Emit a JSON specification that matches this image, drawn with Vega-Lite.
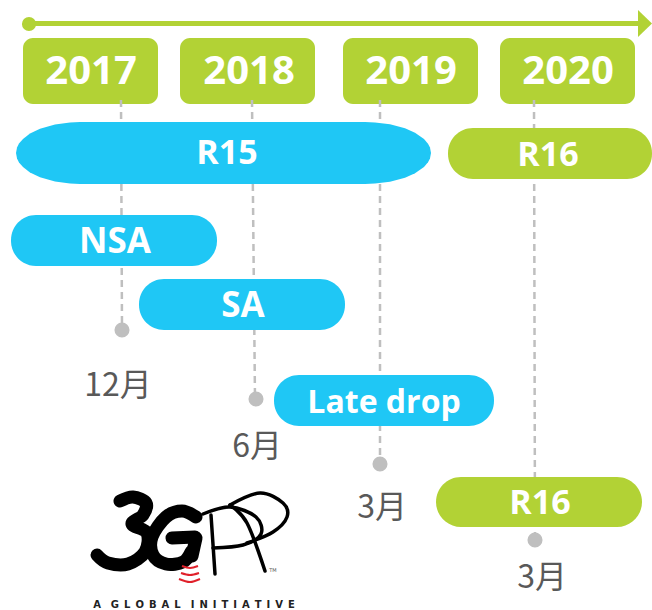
{
"$schema":"https://vega.github.io/schema/vega-lite/v6.json",
"width":652,"height":610,"padding":0,"autosize":{"type":"fit","contains":"padding"},
"background":"white",
"config":{"view":{"stroke":null},"axis":{"domain":false,"grid":false}},
"datasets":{
"years":[{"name":"2017","x0":23,"x1":158,"y0":38,"y1":104,"tx":91,"ty":70},{"name":"2018","x0":180,"x1":315,"y0":38,"y1":104,"tx":249,"ty":70},{"name":"2019","x0":343,"x1":478,"y0":38,"y1":104,"tx":411,"ty":70},{"name":"2020","x0":500,"x1":635,"y0":38,"y1":104,"tx":568,"ty":70}],
"drops":[{"s":"a","i":1,"x":121,"y":100},{"s":"a","i":2,"x":122,"y":330},{"s":"b","i":1,"x":252,"y":100},{"s":"b","i":2,"x":255,"y":399},{"s":"c","i":1,"x":380,"y":100},{"s":"c","i":2,"x":380,"y":464},{"s":"d","i":1,"x":534,"y":100},{"s":"d","i":2,"x":535,"y":540}],
"dots":[{"x":122,"y":330},{"x":256,"y":399},{"x":380,"y":464},{"x":535,"y":540}],
"months":[{"t":"12月","x":118,"y":385},{"t":"6月","x":257,"y":446},{"t":"3月","x":382,"y":507},{"t":"3月","x":542,"y":577}],
"blue":[{"t":"NSA","x0":11,"x1":217,"y0":215,"y1":266,"tx":115,"ty":240},{"t":"SA","x0":139,"x1":345,"y0":279,"y1":330,"tx":243,"ty":304},{"t":"Late drop","x0":274,"x1":494,"y0":375,"y1":426,"tx":384,"ty":401}],
"green":[{"t":"R16","x0":448,"x1":652,"y0":128,"y1":179,"tx":548,"ty":154},{"t":"R16","x0":436,"x1":642,"y0":477,"y1":527,"tx":540,"ty":502}],
"r15":[{"x":16,"a":153,"b":153},{"x":17,"a":147.5,"b":158.5},{"x":19,"a":143.6,"b":162.4},{"x":23,"a":139,"b":167},{"x":30,"a":133.6,"b":172.4},{"x":40,"a":128.8,"b":177.2},{"x":55,"a":124.5,"b":181.5},{"x":70,"a":122.4,"b":183.6},{"x":80,"a":122,"b":184},{"x":365,"a":122,"b":184},{"x":375,"a":122.4,"b":183.6},{"x":390,"a":124.3,"b":181.7},{"x":405,"a":128.3,"b":177.7},{"x":415,"a":132.8,"b":173.2},{"x":424,"a":139.1,"b":166.9},{"x":428,"a":143.8,"b":162.2},{"x":430,"a":147.6,"b":158.4},{"x":431,"a":153,"b":153}],
"logoThick":[
{"s":"3","i":1,"x":120,"y":501},{"s":"3","i":2,"x":133,"y":497},{"s":"3","i":3,"x":146,"y":503},{"s":"3","i":4,"x":143,"y":515},{"s":"3","i":5,"x":132,"y":524},{"s":"3","i":6,"x":147,"y":533},{"s":"3","i":7,"x":145,"y":552},{"s":"3","i":8,"x":128,"y":564},{"s":"3","i":9,"x":108,"y":563},{"s":"3","i":10,"x":97,"y":555},
{"s":"G","i":1,"x":196,"y":517},{"s":"G","i":2,"x":182,"y":511},{"s":"G","i":3,"x":166,"y":517},{"s":"G","i":4,"x":152,"y":537},{"s":"G","i":5,"x":153,"y":555},{"s":"G","i":6,"x":166,"y":564},{"s":"G","i":7,"x":183,"y":562},{"s":"G","i":8,"x":191,"y":552},
{"s":"H","i":1,"x":172,"y":538},{"s":"H","i":2,"x":195,"y":537},
{"s":"W","i":1,"x":196,"y":538},{"s":"W","i":2,"x":192,"y":556}
],
"logoThin":[
{"s":"p1","i":1,"x":211,"y":515},{"s":"p1","i":2,"x":215,"y":574},
{"s":"p2","i":1,"x":203,"y":514},{"s":"p2","i":2,"x":230,"y":507},{"s":"p2","i":3,"x":256,"y":517},{"s":"p2","i":4,"x":261,"y":534},{"s":"p2","i":5,"x":243,"y":545},{"s":"p2","i":6,"x":213,"y":548},
{"s":"p3","i":1,"x":230,"y":505},{"s":"p3","i":2,"x":247,"y":523},{"s":"p3","i":3,"x":265,"y":571},
{"s":"p4","i":1,"x":230,"y":505},{"s":"p4","i":2,"x":260,"y":493},{"s":"p4","i":3,"x":283,"y":503},{"s":"p4","i":4,"x":287,"y":517},{"s":"p4","i":5,"x":273,"y":532},{"s":"p4","i":6,"x":247,"y":543}
],
"logoRed":[
{"s":"a","i":1,"x":182,"y":566},{"s":"a","i":2,"x":190,"y":568},{"s":"a","i":3,"x":198,"y":566},
{"s":"b","i":1,"x":181,"y":573},{"s":"b","i":2,"x":190,"y":575},{"s":"b","i":3,"x":199,"y":573},
{"s":"c","i":1,"x":179,"y":579},{"s":"c","i":2,"x":190,"y":582},{"s":"c","i":3,"x":200,"y":579}
],
"logoText":[{"t":"A\u2003G\u2002L\u2002O\u2002B\u2002A\u2002L\u2003I\u2002N\u2002I\u2002T\u2002I\u2002A\u2002T\u2002I\u2002V\u2002E","x":194,"y":605}],
"tm":[{"t":"TM","x":273,"y":570}]
},
"layer":[
{"data":{"values":[{"x":29,"y":23.5},{"x":640,"y":23.5}]},"mark":{"type":"line","stroke":"#b2d235","strokeWidth":5},"encoding":{"x":{"field":"x","type":"quantitative","scale":{"domain":[0,652],"nice":false,"zero":false},"axis":null},"y":{"field":"y","type":"quantitative","scale":{"domain":[0,610],"reverse":true,"nice":false,"zero":false},"axis":null}}},
{"data":{"values":[{"x":638,"a":10,"b":37},{"x":652,"a":23.5,"b":23.5}]},"mark":{"type":"area","fill":"#b2d235"},"encoding":{"x":{"field":"x","type":"quantitative"},"y":{"field":"a","type":"quantitative"},"y2":{"field":"b"}}},
{"data":{"values":[{"x":29,"y":24}]},"mark":{"type":"point","filled":true,"fill":"#b2d235","opacity":1,"size":200,"shape":"circle"},"encoding":{"x":{"field":"x","type":"quantitative"},"y":{"field":"y","type":"quantitative"}}},
{"data":{"name":"years"},"mark":{"type":"rect","fill":"#b2d235","cornerRadius":10},"encoding":{"x":{"field":"x0","type":"quantitative"},"x2":{"field":"x1"},"y":{"field":"y0","type":"quantitative"},"y2":{"field":"y1"}}},
{"data":{"name":"drops"},"mark":{"type":"line","stroke":"#bfbfbf","strokeWidth":2.5,"strokeDash":[7,5]},"encoding":{"x":{"field":"x","type":"quantitative"},"y":{"field":"y","type":"quantitative"},"detail":{"field":"s"},"order":{"field":"i"}}},
{"data":{"name":"dots"},"mark":{"type":"point","filled":true,"fill":"#bfbfbf","opacity":1,"size":227,"shape":"circle"},"encoding":{"x":{"field":"x","type":"quantitative"},"y":{"field":"y","type":"quantitative"}}},
{"data":{"name":"r15"},"mark":{"type":"area","fill":"#1fc7f5"},"encoding":{"x":{"field":"x","type":"quantitative"},"y":{"field":"a","type":"quantitative"},"y2":{"field":"b"}}},
{"data":{"name":"blue"},"mark":{"type":"rect","fill":"#1fc7f5","cornerRadius":25},"encoding":{"x":{"field":"x0","type":"quantitative"},"x2":{"field":"x1"},"y":{"field":"y0","type":"quantitative"},"y2":{"field":"y1"}}},
{"data":{"name":"green"},"mark":{"type":"rect","fill":"#b2d235","cornerRadius":25},"encoding":{"x":{"field":"x0","type":"quantitative"},"x2":{"field":"x1"},"y":{"field":"y0","type":"quantitative"},"y2":{"field":"y1"}}},
{"data":{"name":"years"},"mark":{"type":"text","font":"Open Sans","fontWeight":"bold","fontSize":40,"fill":"white","align":"center","baseline":"middle","dy":2},"encoding":{"x":{"field":"tx","type":"quantitative"},"y":{"field":"ty","type":"quantitative"},"text":{"field":"name"}}},
{"data":{"name":"blue"},"transform":[{"filter":"datum.t !== 'Late drop'"}],"mark":{"type":"text","font":"Open Sans","fontWeight":"bold","fontSize":35,"fill":"white","align":"center","baseline":"middle","dy":2},"encoding":{"x":{"field":"tx","type":"quantitative"},"y":{"field":"ty","type":"quantitative"},"text":{"field":"t"}}},
{"data":{"name":"blue"},"transform":[{"filter":"datum.t === 'Late drop'"}],"mark":{"type":"text","font":"Open Sans","fontWeight":"bold","fontSize":32,"fill":"white","align":"center","baseline":"middle","dy":2},"encoding":{"x":{"field":"tx","type":"quantitative"},"y":{"field":"ty","type":"quantitative"},"text":{"field":"t"}}},
{"data":{"name":"green"},"mark":{"type":"text","font":"Open Sans","fontWeight":"bold","fontSize":34,"fill":"white","align":"center","baseline":"middle","dy":2},"encoding":{"x":{"field":"tx","type":"quantitative"},"y":{"field":"ty","type":"quantitative"},"text":{"field":"t"}}},
{"data":{"values":[{"t":"R15","x":227,"y":152}]},"mark":{"type":"text","font":"Open Sans","fontWeight":"bold","fontSize":34,"fill":"white","align":"center","baseline":"middle","dy":2},"encoding":{"x":{"field":"x","type":"quantitative"},"y":{"field":"y","type":"quantitative"},"text":{"field":"t"}}},
{"data":{"name":"months"},"mark":{"type":"text","font":"Noto Sans CJK SC","fontSize":32,"fill":"#595959","align":"center","baseline":"middle","dy":1},"encoding":{"x":{"field":"x","type":"quantitative"},"y":{"field":"y","type":"quantitative"},"text":{"field":"t"}}},
{"data":{"name":"logoThick"},"mark":{"type":"line","stroke":"#000000","strokeWidth":13,"strokeCap":"round","interpolate":"cardinal"},"encoding":{"x":{"field":"x","type":"quantitative"},"y":{"field":"y","type":"quantitative"},"detail":{"field":"s"},"order":{"field":"i"}}},
{"data":{"name":"logoThin"},"mark":{"type":"line","stroke":"#000000","strokeWidth":3.5,"strokeCap":"round","interpolate":"cardinal"},"encoding":{"x":{"field":"x","type":"quantitative"},"y":{"field":"y","type":"quantitative"},"detail":{"field":"s"},"order":{"field":"i"}}},
{"data":{"name":"logoRed"},"mark":{"type":"line","stroke":"#e0202a","strokeWidth":2,"interpolate":"monotone"},"encoding":{"x":{"field":"x","type":"quantitative"},"y":{"field":"y","type":"quantitative"},"detail":{"field":"s"},"order":{"field":"i"}}},
{"data":{"name":"logoText"},"mark":{"type":"text","font":"DejaVu Sans","fontWeight":"bold","fontSize":10,"fill":"#222222","align":"center","baseline":"middle"},"encoding":{"x":{"field":"x","type":"quantitative"},"y":{"field":"y","type":"quantitative"},"text":{"field":"t"}}},
{"data":{"name":"tm"},"mark":{"type":"text","font":"DejaVu Sans","fontSize":5,"fill":"#555555","align":"center","baseline":"middle"},"encoding":{"x":{"field":"x","type":"quantitative"},"y":{"field":"y","type":"quantitative"},"text":{"field":"t"}}}
]
}
